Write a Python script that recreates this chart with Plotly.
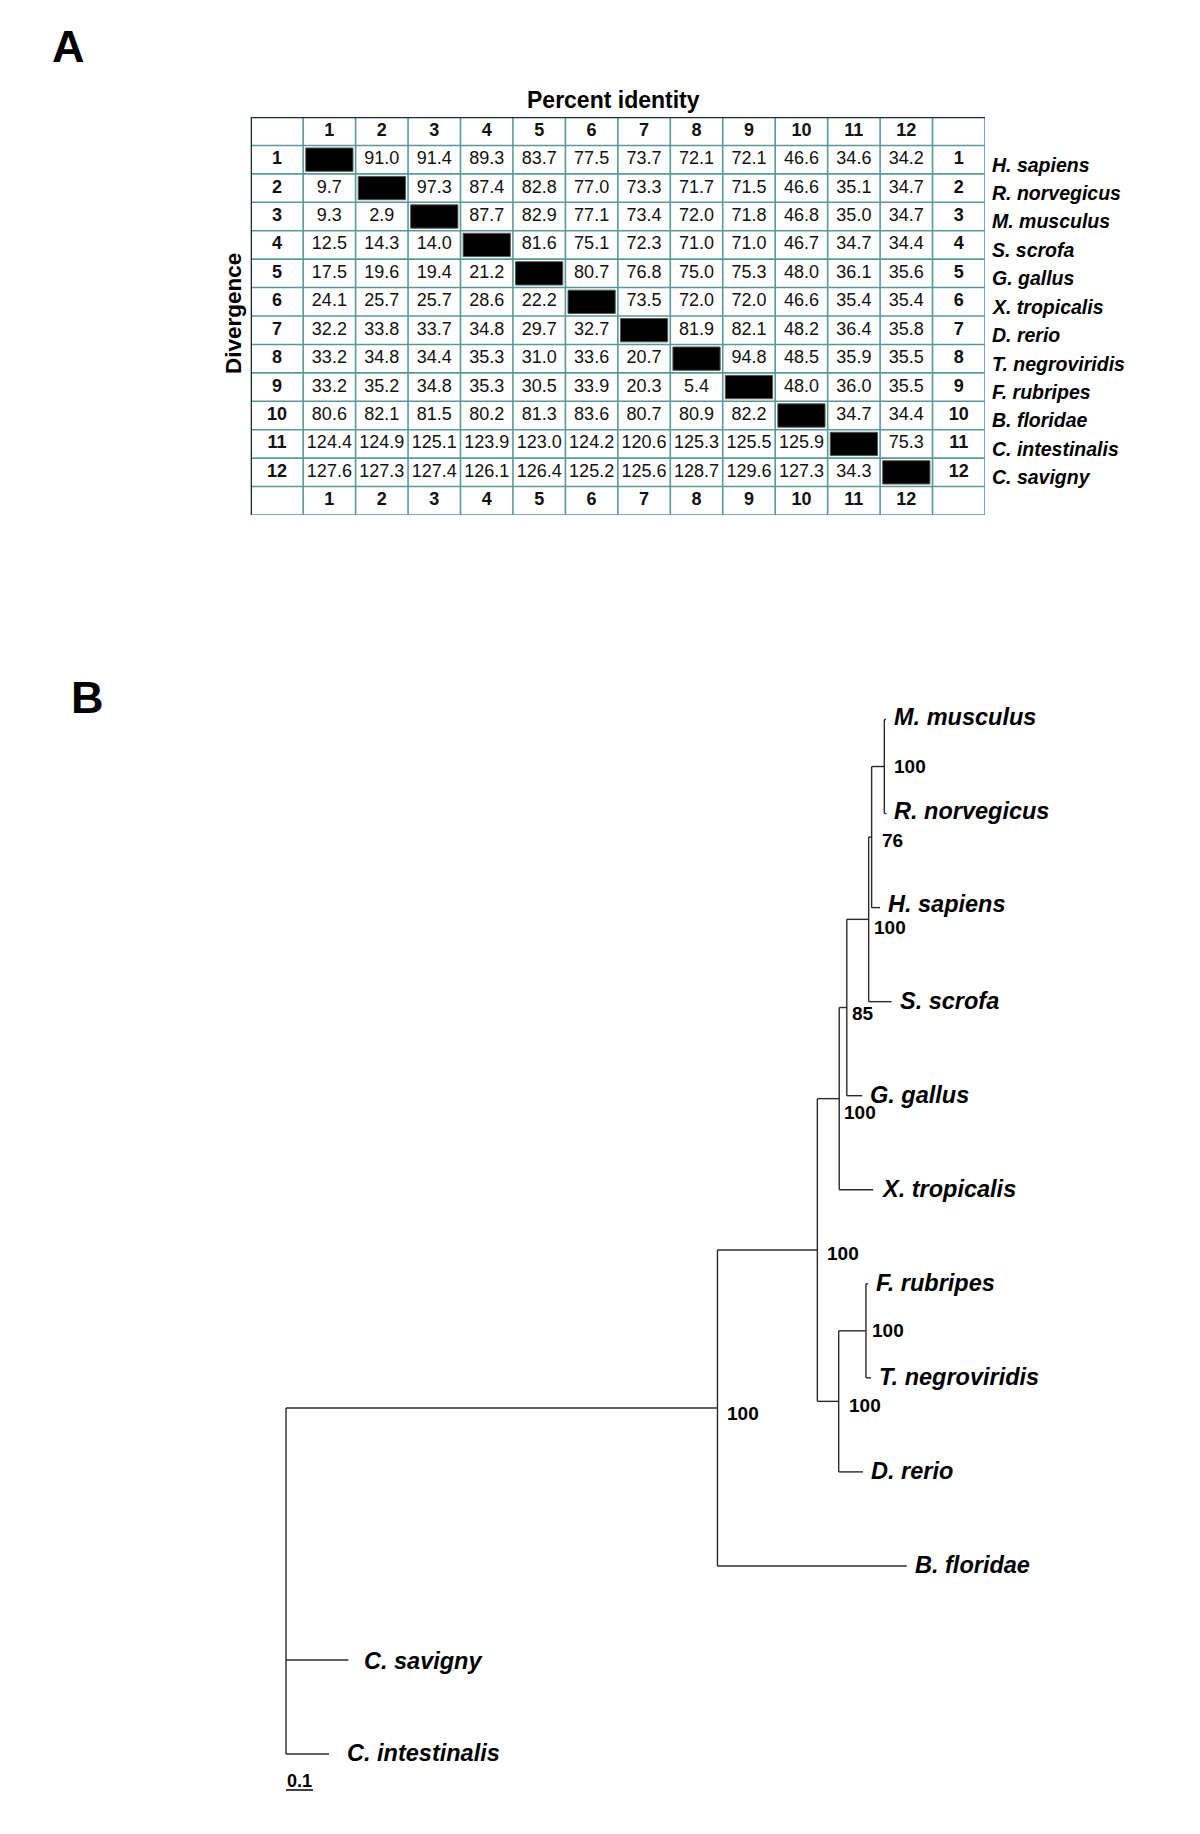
import plotly.graph_objects as go

# ======================= DATA =======================
COLUMN_NUMBERS = [str(i) for i in range(1, 13)]
SPECIES = ["H. sapiens", "R. norvegicus", "M. musculus", "S. scrofa", "G. gallus",
           "X. tropicalis", "D. rerio", "T. negroviridis", "F. rubripes",
           "B. floridae", "C. intestinalis", "C. savigny"]

# upper triangle = percent identity, lower triangle = divergence, None = diagonal
ROW_1 = [None, 91.0, 91.4, 89.3, 83.7, 77.5, 73.7, 72.1, 72.1, 46.6, 34.6, 34.2]
ROW_2 = [9.7, None, 97.3, 87.4, 82.8, 77.0, 73.3, 71.7, 71.5, 46.6, 35.1, 34.7]
ROW_3 = [9.3, 2.9, None, 87.7, 82.9, 77.1, 73.4, 72.0, 71.8, 46.8, 35.0, 34.7]
ROW_4 = [12.5, 14.3, 14.0, None, 81.6, 75.1, 72.3, 71.0, 71.0, 46.7, 34.7, 34.4]
ROW_5 = [17.5, 19.6, 19.4, 21.2, None, 80.7, 76.8, 75.0, 75.3, 48.0, 36.1, 35.6]
ROW_6 = [24.1, 25.7, 25.7, 28.6, 22.2, None, 73.5, 72.0, 72.0, 46.6, 35.4, 35.4]
ROW_7 = [32.2, 33.8, 33.7, 34.8, 29.7, 32.7, None, 81.9, 82.1, 48.2, 36.4, 35.8]
ROW_8 = [33.2, 34.8, 34.4, 35.3, 31.0, 33.6, 20.7, None, 94.8, 48.5, 35.9, 35.5]
ROW_9 = [33.2, 35.2, 34.8, 35.3, 30.5, 33.9, 20.3, 5.4, None, 48.0, 36.0, 35.5]
ROW_10 = [80.6, 82.1, 81.5, 80.2, 81.3, 83.6, 80.7, 80.9, 82.2, None, 34.7, 34.4]
ROW_11 = [124.4, 124.9, 125.1, 123.9, 123.0, 124.2, 120.6, 125.3, 125.5, 125.9, None, 75.3]
ROW_12 = [127.6, 127.3, 127.4, 126.1, 126.4, 125.2, 125.6, 128.7, 129.6, 127.3, 34.3, None]
MATRIX = [ROW_1, ROW_2, ROW_3, ROW_4, ROW_5, ROW_6, ROW_7, ROW_8, ROW_9, ROW_10, ROW_11, ROW_12]

# Phylogenetic tree (parents listed before children; child order = top-to-bottom)
TREE_NODES = ["root", "n_chordata", "C. savigny", "C. intestinalis",
              "n_vertebrata", "B. floridae", "n_tetrapoda", "n_teleostei",
              "n_amniota", "X. tropicalis", "n_mammalia", "G. gallus",
              "n_76", "S. scrofa", "n_murinae", "H. sapiens",
              "M. musculus", "R. norvegicus", "n_tetraodontidae", "D. rerio",
              "F. rubripes", "T. negroviridis"]
TREE_PARENT = [None, 0, 0, 0, 1, 1, 4, 4, 6, 6, 8, 8, 10, 10, 12, 12, 14, 14, 7, 7, 18, 18]
TREE_BRANCH = [0.0, 1.598, 0.231, 0.159, 0.370, 0.701, 0.081, 0.079, 0.028, 0.126,
               0.081, 0.057, 0.011, 0.085, 0.047, 0.031, 0.006, 0.008, 0.101, 0.090,
               0.008, 0.019]
TREE_BOOTSTRAP = [None, 100, None, None, 100, None, 100, 100, 85, None, 100, None,
                  76, None, 100, None, None, None, 100, None, None, None]
SCALE_BAR_LENGTH = 0.1
SCALE_BAR_LABEL = "0.1"

# ======================= LAYOUT CONSTANTS =======================
OFF = 8  # default page body margin
W, H = 1200 - OFF, 1834 - OFF
FONT = "Liberation Sans, Arial, Helvetica, sans-serif"
TABLE_L, TABLE_R, TABLE_T, TABLE_B = 250.7, 985.0, 117.0, 515.0
TREE_TOP_PX = 560.0
ROOT_X_PX, PX_PER_UNIT = 286.0, 270.0
LEAF0_Y_PX, LEAF_STEP_PX = 719.5, 94.05
SCALE_BAR_Y_PX = 1790.0
GRID_COLOR = "#5a9898"
BORDER_COLOR = "#1c2a2a"
LINE_COLOR = "#2a2a2a"

# per-node label nudges (pixels): bootstrap (dx, dy_down) and leaf gaps
BOOT_OFFSET = {"n_chordata": (8, 6), "n_vertebrata": (8, 3), "n_tetrapoda": (3, 14),
               "n_teleostei": (8, 4), "n_amniota": (3, 6), "n_mammalia": (3, 8),
               "n_76": (8, 3), "n_murinae": (8, 0), "n_tetraodontidae": (4, 0)}
LEAF_GAP = {"C. savigny": 14, "C. intestinalis": 16}
LEAF_LIFT = {"M. musculus": 3, "R. norvegicus": 3, "H. sapiens": 4, "C. savigny": -1}


def px_x(px):  # reference pixel x -> paper x
    return (px - OFF) / W


def px_y(px):  # reference pixel y (from top) -> paper y
    return 1 - (px - OFF) / H


n = len(COLUMN_NUMBERS)
fig = go.Figure()

# ---------------- Table (panel A) ----------------
grid_x, grid_y = [], []
for k in range(1, n + 3):
    grid_x += [k - 0.5, k - 0.5, None]
    grid_y += [-0.5, n + 1.5, None]
for k in range(1, n + 3):
    grid_x += [-0.5, n + 1.5, None]
    grid_y += [k - 0.5, k - 0.5, None]
fig.add_trace(go.Scatter(x=grid_x, y=grid_y, mode="lines", xaxis="x", yaxis="y",
                         line=dict(color=GRID_COLOR, width=1.6), hoverinfo="skip",
                         showlegend=False))
fig.add_trace(go.Scatter(x=[n + 1.5, -0.5, -0.5], y=[-0.5, -0.5, n + 1.5], mode="lines",
                         xaxis="x", yaxis="y", line=dict(color=BORDER_COLOR, width=2.6),
                         hoverinfo="skip", showlegend=False))

# black diagonal cells
for i in range(n):
    fig.add_shape(type="rect", xref="x", yref="y",
                  x0=i + 1 - 0.45, x1=i + 1 + 0.45, y0=i + 1 - 0.41, y1=i + 1 + 0.41,
                  fillcolor="black", line=dict(color="#555555", width=1), layer="above")

# cell values
vx, vy, vt = [], [], []
for i, row in enumerate(MATRIX):
    for j, v in enumerate(row):
        if v is not None:
            vx.append(j + 1)
            vy.append(i + 1)
            vt.append(f"{v:.1f}")
fig.add_trace(go.Scatter(x=vx, y=vy, text=vt, mode="text", xaxis="x", yaxis="y",
                         textposition="middle center",
                         textfont=dict(family=FONT, size=18, color="#111111"),
                         hoverinfo="skip", showlegend=False))

# header / footer / side numbers
hx, hy, ht = [], [], []
for j, lab in enumerate(COLUMN_NUMBERS):
    for r in (0, n + 1):
        hx.append(j + 1); hy.append(r); ht.append(lab)
    for c in (0, n + 1):
        hx.append(c); hy.append(j + 1); ht.append(lab)
fig.add_trace(go.Scatter(x=hx, y=hy, text=ht, mode="text", xaxis="x", yaxis="y",
                         textposition="middle center",
                         textfont=dict(family=FONT, size=18, color="#111111", weight="bold"),
                         hoverinfo="skip", showlegend=False))

annotations = []
for i, sp in enumerate(SPECIES):
    annotations.append(dict(xref="x", yref="y", x=n + 1.5, y=i + 1, text=sp,
                            xanchor="left", yanchor="middle", xshift=5, yshift=-5,
                            showarrow=False,
                            font=dict(family=FONT, size=19.5, color="black",
                                      weight="bold", style="italic")))

annotations.append(dict(xref="paper", yref="paper", x=px_x(613.5), y=px_y(100.5),
                        text="Percent identity", showarrow=False, xanchor="center",
                        yanchor="middle",
                        font=dict(family=FONT, size=23, color="black", weight="bold")))
annotations.append(dict(xref="paper", yref="paper", x=px_x(233.5), y=px_y(313.5),
                        text="Divergence", showarrow=False, textangle=-90,
                        xanchor="center", yanchor="middle",
                        font=dict(family=FONT, size=22.5, color="black", weight="bold")))
annotations.append(dict(xref="paper", yref="paper", x=px_x(68.5), y=px_y(46.5), text="A",
                        showarrow=False, xanchor="center", yanchor="middle",
                        font=dict(family=FONT, size=45, color="black", weight="bold")))
annotations.append(dict(xref="paper", yref="paper", x=px_x(87.5), y=px_y(697), text="B",
                        showarrow=False, xanchor="center", yanchor="middle",
                        font=dict(family=FONT, size=45, color="black", weight="bold")))

# ---------------- Tree (panel B) ----------------
N = len(TREE_NODES)
children = {i: [] for i in range(N)}
for i, p in enumerate(TREE_PARENT):
    if p is not None:
        children[p].append(i)
xu = [0.0] * N
for i in range(N):
    if TREE_PARENT[i] is not None:
        xu[i] = xu[TREE_PARENT[i]] + TREE_BRANCH[i]
yu = [0.0] * N
leaf_counter = [0]


def place(node):
    if not children[node]:
        yu[node] = leaf_counter[0]
        leaf_counter[0] += 1
    else:
        for c in children[node]:
            place(c)
        yu[node] = (yu[children[node][0]] + yu[children[node][-1]]) / 2


place(0)

tx, ty = [], []
for i in range(N):
    if children[i]:
        tx += [xu[i], xu[i], None]
        ty += [yu[children[i][0]], yu[children[i][-1]], None]
    if TREE_PARENT[i] is not None:
        tx += [xu[TREE_PARENT[i]], xu[i], None]
        ty += [yu[i], yu[i], None]
fig.add_trace(go.Scatter(x=tx, y=ty, mode="lines", xaxis="x2", yaxis="y2",
                         line=dict(color=LINE_COLOR, width=1.4), hoverinfo="skip",
                         showlegend=False))

for i in range(N):
    name = TREE_NODES[i]
    if not children[i]:
        annotations.append(dict(xref="x2", yref="y2", x=xu[i], y=yu[i], text=name,
                                xanchor="left", yanchor="middle",
                                xshift=LEAF_GAP.get(name, 6),
                                yshift=LEAF_LIFT.get(name, 1), showarrow=False,
                                font=dict(family=FONT, size=23.5, color="black",
                                          weight="bold", style="italic")))
    elif TREE_BOOTSTRAP[i] is not None:
        dx, dy = BOOT_OFFSET.get(name, (5, 4))
        annotations.append(dict(xref="x2", yref="y2", x=xu[i], y=yu[i],
                                text=str(TREE_BOOTSTRAP[i]), xanchor="left",
                                yanchor="middle", xshift=dx, yshift=-dy, showarrow=False,
                                font=dict(family=FONT, size=19, color="black",
                                          weight="bold")))

# scale bar
bar_y = (SCALE_BAR_Y_PX - LEAF0_Y_PX) / LEAF_STEP_PX
fig.add_trace(go.Scatter(x=[0, SCALE_BAR_LENGTH], y=[bar_y, bar_y], mode="lines",
                         xaxis="x2", yaxis="y2", line=dict(color="black", width=1.5),
                         hoverinfo="skip", showlegend=False))
annotations.append(dict(xref="x2", yref="y2", x=SCALE_BAR_LENGTH / 2, y=bar_y,
                        text=SCALE_BAR_LABEL, xanchor="center", yanchor="bottom",
                        yshift=-3, showarrow=False,
                        font=dict(family=FONT, size=18, color="black", weight="bold")))

# ---------------- axes ----------------
hidden = dict(visible=False, showgrid=False, zeroline=False, fixedrange=True)
tree_x_range = [(OFF - ROOT_X_PX) / PX_PER_UNIT, (W + OFF - ROOT_X_PX) / PX_PER_UNIT]
tree_y_range = [(H + OFF - LEAF0_Y_PX) / LEAF_STEP_PX, (TREE_TOP_PX - LEAF0_Y_PX) / LEAF_STEP_PX]

fig.update_layout(
    width=W, height=H,
    margin=dict(l=0, r=0, t=0, b=0),
    paper_bgcolor="white", plot_bgcolor="rgba(0,0,0,0)",
    showlegend=False,
    xaxis=dict(domain=[px_x(TABLE_L), px_x(TABLE_R)], range=[-0.5, n + 1.5], **hidden),
    yaxis=dict(domain=[px_y(TABLE_B), px_y(TABLE_T)], range=[n + 1.5, -0.5], **hidden),
    xaxis2=dict(domain=[0, 1], range=tree_x_range, anchor="y2", **hidden),
    yaxis2=dict(domain=[0, px_y(TREE_TOP_PX)], range=tree_y_range, anchor="x2", **hidden),
    annotations=annotations,
)

fig.write_html("out.html")
